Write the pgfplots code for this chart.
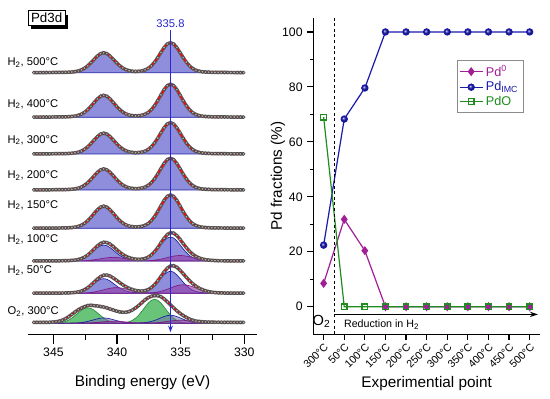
\documentclass[border=0pt]{standalone}
\usepackage{fontspec}
\setmainfont{Liberation Sans}
\setsansfont{Liberation Sans}
\usepackage{pgfplots}
\pgfplotsset{compat=1.18}
\usepackage{pgfplotstable}
\usetikzlibrary{arrows.meta}

\definecolor{bfill}{RGB}{142,142,220}
\definecolor{bline}{RGB}{30,30,165}
\definecolor{pfill}{RGB}{150,60,165}
\definecolor{pline}{RGB}{125,30,135}
\definecolor{gfill}{RGB}{105,195,120}
\definecolor{gline}{RGB}{40,140,60}
\definecolor{pdzero}{RGB}{160,30,150}
\definecolor{pdimc}{RGB}{25,25,170}
\definecolor{pdo}{RGB}{30,140,30}
\definecolor{lblue}{RGB}{40,40,210}

\pgfplotstableread{
be imc b100 p100 e100 b50 p50 e50 gO bO pO eO
330.05 0.005 0.12 0 0.12 0.11 0 0.11 0 0.04 0 0.8
330.30 0.006 0.14 0 0.14 0.13 0 0.13 0 0.05 0 0.8
330.55 0.006 0.14 0 0.14 0.13 0 0.13 0 0.05 0 0.8
330.80 0.007 0.17 0 0.17 0.15 0 0.15 0 0.06 0 0.8
331.05 0.007 0.17 0 0.17 0.15 0 0.15 0 0.06 0 0.9
331.30 0.008 0.19 0 0.19 0.18 0.03 0.21 0 0.06 0 0.9
331.55 0.009 0.22 0 0.22 0.20 0.05 0.25 0 0.07 0 0.9
331.80 0.010 0.24 0 0.24 0.22 0.11 0.33 0 0.08 0 1.0
332.05 0.011 0.26 0 0.26 0.24 0.22 0.46 0 0.09 0.04 1.0
332.30 0.012 0.29 0.14 0.43 0.26 0.42 0.68 0 0.10 0.08 1.0
332.55 0.014 0.34 0.27 0.61 0.31 0.74 1.05 0 0.11 0.15 1.1
332.80 0.018 0.43 0.48 0.91 0.40 1.24 1.64 0 0.14 0.26 1.2
333.05 0.023 0.55 0.80 1.35 0.51 1.95 2.46 0 0.18 0.44 1.3
333.30 0.033 0.79 1.26 2.05 0.73 2.88 3.61 0 0.26 0.69 1.5
333.55 0.051 1.22 1.86 3.08 1.12 4.00 5.12 0 0.41 1.02 1.8
333.80 0.084 2.02 2.59 4.61 1.85 5.25 7.10 0 0.67 1.41 2.2
334.05 0.140 3.36 3.40 6.76 3.08 6.49 9.57 0.05 1.12 1.85 3.0
334.30 0.226 5.42 4.20 9.62 4.97 7.54 12.51 0.12 1.81 2.29 4.2
334.55 0.349 8.38 4.88 13.26 7.68 8.25 15.93 0.31 2.79 2.66 5.8
334.80 0.502 12.05 5.34 17.39 11.04 8.50 19.54 0.72 4.02 2.91 7.7
335.05 0.673 16.15 5.50 21.65 14.81 8.25 23.06 1.50 5.38 3.00 9.9
335.30 0.837 20.09 5.34 25.43 18.41 7.54 25.95 2.88 6.70 2.91 12.5
335.55 0.957 22.97 4.88 27.85 21.05 6.49 27.54 5.04 7.66 2.66 15.4
335.80 1.003 24.07 4.20 28.27 22.07 5.25 27.32 8.14 8.02 2.29 18.4
336.05 0.959 23.02 3.40 26.42 21.10 4.00 25.10 12.00 7.67 1.85 21.5
336.30 0.839 20.14 2.59 22.73 18.46 2.88 21.34 16.25 6.71 1.41 24.3
336.55 0.676 16.22 1.86 18.08 14.87 1.97 16.84 20.18 5.41 1.02 26.6
336.80 0.505 12.12 1.27 13.39 11.11 1.27 12.38 22.99 4.04 0.69 27.6
337.05 0.353 8.47 0.82 9.29 7.77 0.81 8.58 24.00 2.82 0.44 27.7
337.30 0.232 5.57 0.53 6.10 5.10 0.57 5.67 22.99 1.86 0.29 27.0
337.55 0.146 3.50 0.36 3.86 3.21 0.49 3.70 20.18 1.17 0.20 25.6
337.80 0.092 2.21 0.32 2.53 2.02 0.60 2.62 16.25 0.74 0.18 23.4
338.05 0.061 1.46 0.38 1.84 1.34 0.87 2.21 12.00 0.49 0.21 20.6
338.30 0.047 1.13 0.56 1.69 1.03 1.31 2.34 8.14 0.38 0.29 17.8
338.55 0.043 1.03 0.84 1.87 0.95 1.90 2.85 5.04 0.34 0.46 15.3
338.80 0.050 1.20 1.23 2.43 1.10 2.64 3.74 2.88 0.40 0.68 13.2
339.05 0.068 1.63 1.70 3.33 1.50 3.46 4.96 1.50 0.54 0.94 11.7
339.30 0.103 2.47 2.22 4.69 2.27 4.27 6.54 0.75 0.82 1.24 11.0
339.55 0.159 3.82 2.75 6.57 3.50 4.97 8.47 0.39 1.27 1.53 11.0
339.80 0.238 5.71 3.19 8.90 5.24 5.43 10.67 0.32 1.90 1.77 11.4
340.05 0.338 8.11 3.49 11.60 7.44 5.60 13.04 0.52 2.70 1.94 12.2
340.30 0.450 10.80 3.60 14.40 9.90 5.43 15.33 0.97 3.60 2.00 13.2
340.55 0.557 13.37 3.49 16.86 12.25 4.97 17.22 1.86 4.46 1.94 14.3
340.80 0.636 15.26 3.19 18.45 13.99 4.27 18.26 3.26 5.09 1.77 15.4
341.05 0.665 15.96 2.75 18.71 14.63 3.46 18.09 5.25 5.32 1.53 16.2
341.30 0.635 15.24 2.22 17.46 13.97 2.64 16.61 7.75 5.08 1.24 16.8
341.55 0.555 13.32 1.70 15.02 12.21 1.90 14.11 10.49 4.44 0.94 17.3
341.80 0.447 10.73 1.22 11.95 9.83 1.28 11.11 13.04 3.58 0.68 17.6
342.05 0.334 8.02 0.82 8.84 7.35 0.82 8.17 14.85 2.67 0.46 18.0
342.30 0.232 5.57 0.53 6.10 5.10 0.49 5.59 15.50 1.86 0.29 17.7
342.55 0.152 3.65 0.31 3.96 3.34 0.27 3.61 14.85 1.22 0.17 16.6
342.80 0.095 2.28 0.18 2.46 2.09 0.15 2.24 13.04 0.76 0.10 15.3
343.05 0.058 1.39 0.09 1.48 1.28 0.07 1.35 10.49 0.46 0.05 13.5
343.30 0.036 0.86 0.05 0.91 0.79 0.03 0.82 7.75 0.29 0.03 11.3
343.55 0.024 0.58 0.02 0.60 0.53 0.02 0.55 5.25 0.19 0 8.9
343.80 0.017 0.41 0 0.41 0.37 0 0.37 3.26 0.14 0 6.6
344.05 0.013 0.31 0 0.31 0.29 0 0.29 1.86 0.10 0 4.6
344.30 0.011 0.26 0 0.26 0.24 0 0.24 0.97 0.09 0 3.1
344.55 0.009 0.22 0 0.22 0.20 0 0.20 0.47 0.07 0 2.1
344.80 0.009 0.22 0 0.22 0.20 0 0.20 0.20 0.07 0 1.5
345.05 0.008 0.19 0 0.19 0.18 0 0.18 0.08 0.06 0 1.2
345.30 0.007 0.17 0 0.17 0.15 0 0.15 0.03 0.06 0 1.0
345.55 0.007 0.17 0 0.17 0.15 0 0.15 0 0.06 0 0.9
345.80 0.006 0.14 0 0.14 0.13 0 0.13 0 0.05 0 0.9
346.05 0.006 0.14 0 0.14 0.13 0 0.13 0 0.05 0 0.9
346.30 0.006 0.14 0 0.14 0.13 0 0.13 0 0.05 0 0.9
346.55 0.005 0.12 0 0.12 0.11 0 0.11 0 0.04 0 0.9
}\spec

\pgfplotstableread{
x pdzero pdimc pdo
0 8.5 22.4 69.0
1 31.8 68.3 0
2 20.4 79.6 0
3 0 100 0
4 0 100 0
5 0 100 0
6 0 100 0
7 0 100 0
8 0 100 0
9 0 100 0
10 0 100 0
}\frac

\pgfplotsset{
  spec/.style={anchor=south west, scale only axis, width=171.75pt, height=30pt,
    xmin=329, xmax=347, x dir=reverse, ymin=0, ymax=40, hide axis, clip=false},
  band/.style={black!60, line width=2.6pt},
  dots/.style={only marks, mark=*, mark size=1.15pt,
    mark options={draw=black!75, fill=gray!60, line width=0.35pt}},
  fitline/.style={red, line width=1.05pt},
  bcomp/.style={fill=bfill, draw=bline, line width=0.5pt},
}

\begin{document}
\begin{tikzpicture}
\useasboundingbox (0,0) rectangle (412.5pt,299.25pt);

% ---- left panel: stacked spectra ----
\begin{axis}[spec, at={(21pt,244.7pt)}, ymax=1.333]
  \addplot[bcomp] table[x=be,y=imc]{\spec} \closedcycle;
  \addplot[band] table[x=be,y=imc]{\spec};
  \addplot[dots] table[x=be,y=imc]{\spec};
  \addplot[fitline] table[x=be,y=imc]{\spec};
\end{axis}
\begin{axis}[spec, at={(21pt,211.3pt)}, ymax=1.212]
  \addplot[bcomp] table[x=be,y=imc]{\spec} \closedcycle;
  \addplot[band] table[x=be,y=imc]{\spec};
  \addplot[dots] table[x=be,y=imc]{\spec};
  \addplot[fitline] table[x=be,y=imc]{\spec};
\end{axis}
\begin{axis}[spec, at={(21pt,183.75pt)}, ymax=1.278]
  \addplot[bcomp] table[x=be,y=imc]{\spec} \closedcycle;
  \addplot[band] table[x=be,y=imc]{\spec};
  \addplot[dots] table[x=be,y=imc]{\spec};
  \addplot[fitline] table[x=be,y=imc]{\spec};
\end{axis}
\begin{axis}[spec, at={(21pt,156.75pt)}, ymax=1.262]
  \addplot[bcomp] table[x=be,y=imc]{\spec} \closedcycle;
  \addplot[band] table[x=be,y=imc]{\spec};
  \addplot[dots] table[x=be,y=imc]{\spec};
  \addplot[fitline] table[x=be,y=imc]{\spec};
\end{axis}
\begin{axis}[spec, at={(21pt,128pt)}, ymax=1.201]
  \addplot[bcomp] table[x=be,y=imc]{\spec} \closedcycle;
  \addplot[band] table[x=be,y=imc]{\spec};
  \addplot[dots] table[x=be,y=imc]{\spec};
  \addplot[fitline] table[x=be,y=imc]{\spec};
\end{axis}
\begin{axis}[spec, at={(21pt,103.5pt)}]
  \addplot[bcomp] table[x=be,y=b100]{\spec} \closedcycle;
  \addplot[fill=pfill, fill opacity=0.6, draw=pline, line width=0.5pt] table[x=be,y=p100]{\spec} \closedcycle;
  \addplot[band] table[x=be,y=e100]{\spec};
  \addplot[dots] table[x=be,y=e100]{\spec};
  \addplot[fitline] table[x=be,y=e100]{\spec};
\end{axis}
\begin{axis}[spec, at={(21pt,79.3pt)}]
  \addplot[bcomp] table[x=be,y=b50]{\spec} \closedcycle;
  \addplot[fill=pfill, fill opacity=0.6, draw=pline, line width=0.5pt] table[x=be,y=p50]{\spec} \closedcycle;
  \addplot[band] table[x=be,y=e50]{\spec};
  \addplot[dots] table[x=be,y=e50]{\spec};
  \addplot[fitline] table[x=be,y=e50]{\spec};
\end{axis}
\begin{axis}[spec, at={(21pt,56.8pt)}]
  \addplot[fill=gfill, draw=gline, line width=0.5pt] table[x=be,y=gO]{\spec} \closedcycle;
  \addplot[fill=bfill!80!black, fill opacity=0.55, draw=bline, line width=0.5pt] table[x=be,y=bO]{\spec} \closedcycle;
  \addplot[fill=pfill, fill opacity=0.5, draw=pline, line width=0.5pt] table[x=be,y=pO]{\spec} \closedcycle;
  \addplot[band] table[x=be,y=eO]{\spec};
  \addplot[dots] table[x=be,y=eO]{\spec};
  \addplot[fitline] table[x=be,y=eO]{\spec};
\end{axis}

% bottom energy axis with the 335.8 marker
\begin{axis}[anchor=south west, at={(21pt,48.6pt)}, scale only axis,
    width=171.75pt, height=229.5pt, xmin=329, xmax=347, x dir=reverse,
    ymin=0, ymax=306, axis x line*=bottom, axis y line=none, ytick=\empty,
    xtick={330,335,340,345}, minor x tick num=1, tick align=outside,
    major tick length=7pt, minor tick length=4pt,
    axis line style={line width=0.9pt}, every tick/.style={black, line width=0.9pt},
    /pgf/number format/assume math mode=true,
    xticklabel style={font=\fontsize{9.2}{11}\selectfont}, clip=false]
  \addplot[lblue, line width=0.6pt, -{Stealth[length=5pt,width=3.6pt]}] coordinates {(335.8,304) (335.8,2)};
  \node[text=lblue, font=\fontsize{8.4}{10}\selectfont] at (axis cs:335.8,311) {335.8};
\end{axis}

% spectrum labels
\begin{scope}[every node/.style={anchor=west, inner sep=0pt, font=\fontsize{8.4}{10}\selectfont}]
\node at (5.5pt,252.5pt) {H\textsubscript{2}, 500°C};
\node at (5.5pt,221.25pt) {H\textsubscript{2}, 400°C};
\node at (5.5pt,194.25pt) {H\textsubscript{2}, 300°C};
\node at (5.5pt,167.5pt) {H\textsubscript{2}, 200°C};
\node at (5.5pt,145.5pt) {H\textsubscript{2}, 150°C};
\node at (5.5pt,119.8pt) {H\textsubscript{2}, 100°C};
\node at (5.5pt,96.2pt) {H\textsubscript{2}, 50°C};
\node at (5.5pt,65.5pt) {O\textsubscript{2}, 300°C};
\end{scope}

% Pd3d box
\fill[black] (23.5pt,277.2pt) rectangle (51pt,288pt);
\filldraw[fill=white, draw=black, line width=0.6pt] (21.2pt,280.5pt) rectangle (48.75pt,291.2pt);
\node[font=\fontsize{10}{12}\selectfont] at (34.98pt,285.85pt) {Pd3d};

\node[font=\fontsize{11.5}{13}\selectfont] at (106.9pt,12.5pt) {Binding energy (eV)};

% ---- right panel: fractions ----
\begin{axis}[anchor=south west, at={(235pt,48.6pt)}, scale only axis,
    width=170pt, height=237pt, xmin=-0.5, xmax=10.5, ymin=-10, ymax=105,
    axis x line*=bottom, axis y line*=left,
    xtick={0,...,10},
    xticklabels={300°C,50°C,100°C,150°C,200°C,250°C,300°C,350°C,400°C,450°C,500°C},
    xticklabel style={rotate=45, anchor=north east, font=\fontsize{8}{9}\selectfont, inner sep=1pt},
    ytick={0,20,40,60,80,100}, minor y tick num=1,
    yticklabel style={font=\fontsize{9.2}{11}\selectfont},
    /pgf/number format/assume math mode=true,
    tick align=outside, major tick length=4.5pt, minor tick length=2.6pt,
    axis line style={line width=0.9pt}, every tick/.style={black, line width=0.9pt},
    clip=false,
    legend style={at={(0.633,0.868)}, anchor=north west, draw=black!45, line width=0.6pt,
      font=\fontsize{9.5}{11}\selectfont, inner sep=1.5pt, row sep=-1.5pt},
    legend cell align=left]
  \addplot[pdzero, line width=0.9pt, mark=diamond*, mark size=2.7pt] table[x=x,y=pdzero]{\frac};
  \addlegendentry{\textcolor{pdzero}{Pd\textsuperscript{0}}}
  \addplot[pdimc, line width=0.9pt, mark=ball, mark size=2.3pt, mark options={ball color=pdimc}] table[x=x,y=pdimc]{\frac};
  \addlegendentry{\textcolor{pdimc}{Pd\textsubscript{IMC}}}
  \addplot[pdo, line width=0.9pt, mark=square, mark size=2.1pt, mark options={fill=white, solid}] table[x=x,y=pdo]{\frac};
  \addlegendentry{\textcolor{pdo}{PdO}}
  \draw[black, line width=0.6pt, dash pattern=on 2.2pt off 2pt] (axis cs:0.5,-10) -- (axis cs:0.5,105);
  \draw[black, line width=0.8pt, -{Stealth[length=6pt,width=4pt]}] (axis cs:0.5,-2.8) -- (axis cs:10.4,-2.8);
  \node[anchor=west, font=\fontsize{8}{9}\selectfont, inner sep=0pt] at (axis cs:0.98,-6.5) {Reduction in H\textsubscript{2}};
  \node[font=\fontsize{11}{12}\selectfont, inner sep=0pt] at (axis cs:-0.1,-5.2) {O\textsubscript{2}};
\end{axis}

\node[rotate=90, font=\fontsize{11.5}{13}\selectfont] at (208.5pt,167.25pt) {Pd fractions (\%)};
\node[font=\fontsize{11.5}{13}\selectfont] at (320pt,11.5pt) {Experimential point};
\end{tikzpicture}
\end{document}
